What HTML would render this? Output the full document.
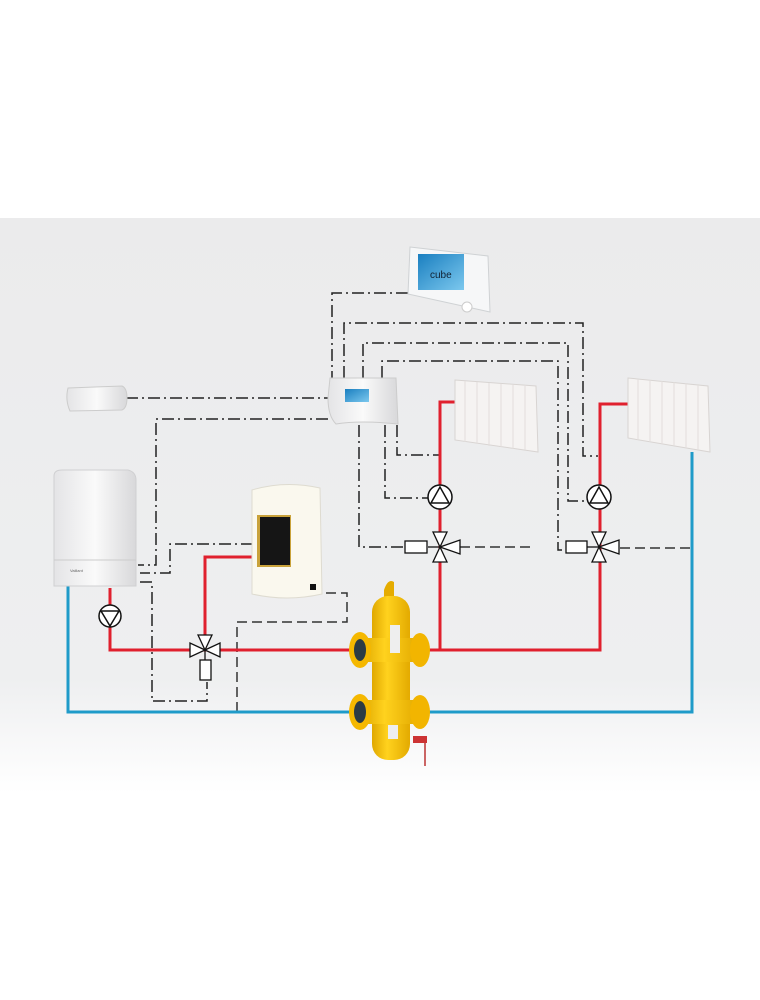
<!DOCTYPE html>
<html><head><meta charset="utf-8"><style>
html,body{margin:0;padding:0;background:#fff;}
svg{display:block;}
</style></head><body>
<svg width="760" height="1000" viewBox="0 0 760 1000" xmlns="http://www.w3.org/2000/svg">
<defs>
<linearGradient id="bg" x1="0" y1="0" x2="0" y2="1">
<stop offset="0" stop-color="#ebebec"/><stop offset="0.8" stop-color="#eeeff0"/><stop offset="1" stop-color="#ffffff"/>
</linearGradient>
<linearGradient id="wh" x1="0" y1="0" x2="1" y2="0">
<stop offset="0" stop-color="#e4e4e6"/><stop offset="0.5" stop-color="#fafafa"/><stop offset="1" stop-color="#d8d8da"/>
</linearGradient>
<linearGradient id="yl" x1="0" y1="0" x2="1" y2="0">
<stop offset="0" stop-color="#e0a800"/><stop offset="0.4" stop-color="#ffd21e"/><stop offset="1" stop-color="#e3aa00"/>
</linearGradient>
<linearGradient id="scr" x1="0" y1="0" x2="1" y2="1">
<stop offset="0" stop-color="#1a7fc0"/><stop offset="1" stop-color="#7cc8ee"/>
</linearGradient>
</defs>
<rect x="0" y="218" width="760" height="575" fill="url(#bg)"/>

<!-- control lines dash-dot -->
<g fill="none" stroke="#222" stroke-width="1.5" stroke-dasharray="12 4 2 4">
<polyline points="408,293 332,293 332,378"/>
<polyline points="344,378 344,323 583,323 583,456 598,456"/>
<polyline points="363,378 363,343 568,343 568,501 588,501"/>
<polyline points="382,378 382,361 558,361 558,550 566,550"/>
<polyline points="359,425 359,547 405,547"/>
<polyline points="385,425 385,498 428,498"/>
<polyline points="397,425 397,455 440,455"/>
<polyline points="126,398 328,398"/>
<polyline points="328,419 156,419 156,565 138,565"/>
<polyline points="253,544 170,544 170,573 140,573"/>
<polyline points="140,582 152,582 152,701 207,701 207,682"/>
</g>
<g fill="none" stroke="#333" stroke-width="1.5" stroke-dasharray="10 5">
<polyline points="460,547 530,547"/>
<polyline points="620,548 692,548"/>
<polyline points="237,712 237,622 347,622 347,593 312,593"/>
</g>

<!-- pipes -->
<g fill="none" stroke-width="3">
<polyline stroke="#1f9bc9" points="68,586 68,712 692,712 692,452"/>
<polyline stroke="#e0202e" points="110,588 110,650 362,650"/>
<polyline stroke="#e0202e" points="205,650 205,557 255,557"/>
<polyline stroke="#e0202e" points="418,650 600,650 600,404 628,404"/>
<polyline stroke="#e0202e" points="440,650 440,402 456,402"/>
</g>

<!-- pumps -->
<g fill="#fff" stroke="#111" stroke-width="1.5">
<circle cx="110" cy="616" r="11"/><polygon points="101,611 119,611 110,626" fill="none"/>
<circle cx="440" cy="497" r="12"/><polygon points="431,503 449,503 440,487" fill="none"/>
<circle cx="599" cy="497" r="12"/><polygon points="590,503 608,503 599,487" fill="none"/>
</g>
<!-- valves -->
<g fill="#fff" stroke="#111" stroke-width="1.3">
<polygon points="205,650 190,643 190,657"/><polygon points="205,650 220,643 220,657"/><polygon points="205,650 198,635 212,635"/>
<rect x="200" y="660" width="11" height="20"/><line x1="205" y1="650" x2="205" y2="660"/>
<polygon points="440,547 433,532 447,532"/><polygon points="440,547 433,562 447,562"/><polygon points="440,547 460,540 460,554"/><line x1="428" y1="547" x2="440" y2="547"/>
<rect x="405" y="541" width="22" height="12"/>
<polygon points="599,547 592,532 606,532"/><polygon points="599,547 592,562 606,562"/><polygon points="599,547 619,540 619,554"/><line x1="587" y1="547" x2="599" y2="547"/>
<rect x="566" y="541" width="21" height="12"/>
</g>

<!-- boiler -->
<path d="M54,476 Q54,470 62,470 L128,470 Q136,472 136,480 L136,586 L54,586 Z" fill="url(#wh)" stroke="#d0d0d2"/>
<line x1="54" y1="560" x2="136" y2="560" stroke="#ccc"/>
<text x="70" y="572" font-family="Liberation Sans, sans-serif" font-size="4" fill="#666">Vaillant</text>
<!-- tank -->
<path d="M252,490 Q285,480 320,488 L322,594 Q287,602 252,594 Z" fill="#faf8ee" stroke="#dedbd0"/>
<rect x="257" y="515" width="34" height="52" fill="#c9a23a"/>
<rect x="260" y="517" width="30" height="48" fill="#151515"/>
<rect x="310" y="584" width="6" height="6" fill="#111"/>
<!-- wireless box -->
<path d="M68,388 L122,386 Q127,388 127,398 Q127,408 122,410 L70,411 Q65,400 68,388 Z" fill="url(#wh)" stroke="#ccc"/>
<!-- controller -->
<path d="M330,378 L396,378 L398,424 Q360,420 336,424 Q328,416 328,398 Z" fill="url(#wh)" stroke="#ccc"/>
<rect x="345" y="389" width="24" height="13" fill="url(#scr)"/>
<!-- thermostat -->
<path d="M410,247 L488,256 L490,312 L408,294 Z" fill="#f6f7f8" stroke="#cfd2d4"/>
<rect x="418" y="254" width="46" height="36" fill="url(#scr)"/>
<text x="430" y="278" font-family="Liberation Sans, sans-serif" font-size="10" fill="#123">cube</text>
<circle cx="467" cy="307" r="5" fill="#fff" stroke="#ccc"/>
<!-- radiators -->
<g>
<path d="M455,380 L536,386 L538,452 L455,440 Z" fill="#f5f3f2" stroke="#d8d4d2"/>
<path d="M628,378 L708,386 L710,452 L628,438 Z" fill="#f5f3f2" stroke="#d8d4d2"/>
<g stroke="#e2dedc" stroke-width="1">
<line x1="465" y1="381" x2="465" y2="442"/><line x1="477" y1="382" x2="477" y2="444"/><line x1="489" y1="383" x2="489" y2="446"/><line x1="501" y1="384" x2="501" y2="447"/><line x1="513" y1="385" x2="513" y2="449"/><line x1="525" y1="386" x2="525" y2="450"/>
<line x1="638" y1="379" x2="638" y2="440"/><line x1="650" y1="380" x2="650" y2="442"/><line x1="662" y1="381" x2="662" y2="444"/><line x1="674" y1="382" x2="674" y2="446"/><line x1="686" y1="383" x2="686" y2="448"/><line x1="698" y1="384" x2="698" y2="450"/>
</g>
</g>
<!-- separator -->
<g>
<path d="M384,590 Q388,578 394,582 L394,598 L384,598 Z" fill="#e5ac00"/>
<rect x="372" y="596" width="38" height="164" rx="16" fill="url(#yl)"/>
<rect x="362" y="638" width="56" height="24" fill="url(#yl)"/>
<rect x="362" y="700" width="56" height="24" fill="url(#yl)"/>
<ellipse cx="360" cy="650" rx="11" ry="18" fill="#f5b800"/><ellipse cx="360" cy="650" rx="6" ry="11" fill="#2c3b44"/>
<ellipse cx="420" cy="650" rx="10" ry="17" fill="#f2b500"/>
<ellipse cx="360" cy="712" rx="11" ry="18" fill="#f5b800"/><ellipse cx="360" cy="712" rx="6" ry="11" fill="#2c3b44"/>
<ellipse cx="420" cy="712" rx="10" ry="17" fill="#f2b500"/>
<rect x="390" y="625" width="10" height="28" fill="#eee"/>
<rect x="388" y="725" width="10" height="14" fill="#eee"/>
<line x1="425" y1="740" x2="425" y2="766" stroke="#b33" stroke-width="1.5"/>
<rect x="413" y="736" width="14" height="7" fill="#c33"/>
</g>
</svg>
</body></html>
